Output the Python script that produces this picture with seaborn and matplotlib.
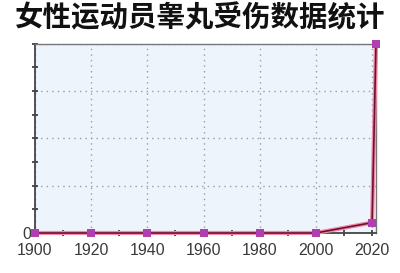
import matplotlib
matplotlib.use("Agg")
import matplotlib.pyplot as plt
import matplotlib.patheffects as pe
import seaborn as sns
import pandas as pd

title = "女性运动员睾丸受伤数据统计"
years = [1900, 1920, 1940, 1960, 1980, 2000, 2020, 2021.4]
values = [0, 0, 0, 0, 0, 0, 0.22, 4.0]
x_ticks = [1900, 1920, 1940, 1960, 1980, 2000, 2020]
y_ticks = [0, 1, 2, 3, 4]
y_labels = ["0", "", "", "", ""]

sns.set_theme(style="white")
plt.rcParams['font.family'] = ['Liberation Sans', 'DejaVu Sans']

fig = plt.figure(figsize=(4.0, 2.73), dpi=100)
ax = fig.add_axes([0.0875, 0.1465, 0.8525, 0.693])
ax.set_facecolor("#eef4fc")

df = pd.DataFrame({"year": years, "value": values})
sns.lineplot(data=df, x="year", y="value", ax=ax, color="#6e1030", linewidth=1.2,
             path_effects=[pe.Stroke(linewidth=3.0, foreground="#f08aa5"), pe.Normal()],
             clip_on=False, zorder=5)
sns.scatterplot(data=df, x="year", y="value", ax=ax, marker="s", s=32, color="#b040b0",
                edgecolor="#b040b0", linewidth=0, clip_on=False, zorder=6)

ax.set_xlim(1900, 2021.4)
ax.set_ylim(0, 4)
ax.set_xticks(x_ticks)
ax.set_xticklabels([str(y) for y in x_ticks])
ax.set_xticks([1910, 1930, 1950, 1970, 1990, 2010], minor=True)
ax.set_yticks(y_ticks)
ax.set_yticklabels(y_labels)
ax.set_yticks([0.5, 1.5, 2.5, 3.5], minor=True)
ax.tick_params(axis="both", which="both", direction="inout", length=4, width=1.2, color="#333333",
               labelsize=11.5, labelcolor="#3a3a3a")
ax.tick_params(axis="x", which="major", pad=5)
ax.tick_params(axis="y", which="major", pad=1)
ax.tick_params(axis="both", which="both", bottom=True, left=True)
ax.grid(True, which="major", linestyle=(0, (1, 3)), color="#9a9aa8", linewidth=1)
ax.set_xlabel("")
ax.set_ylabel("")

for s in ["top", "right"]:
    ax.spines[s].set_color("#777777")
    ax.spines[s].set_linewidth(1)
ax.spines["left"].set_color("#444444")
ax.spines["left"].set_linewidth(1.3)
ax.spines["bottom"].set_color("#444444")
ax.spines["bottom"].set_linewidth(1.3)

fig.text(0.5, 0.935, title, ha="center", va="center", fontsize=20.5, fontweight="heavy",
         color="#111111", family=["Noto Sans CJK SC", "DejaVu Sans"])

fig.savefig("out.png", dpi=100, facecolor="white")
